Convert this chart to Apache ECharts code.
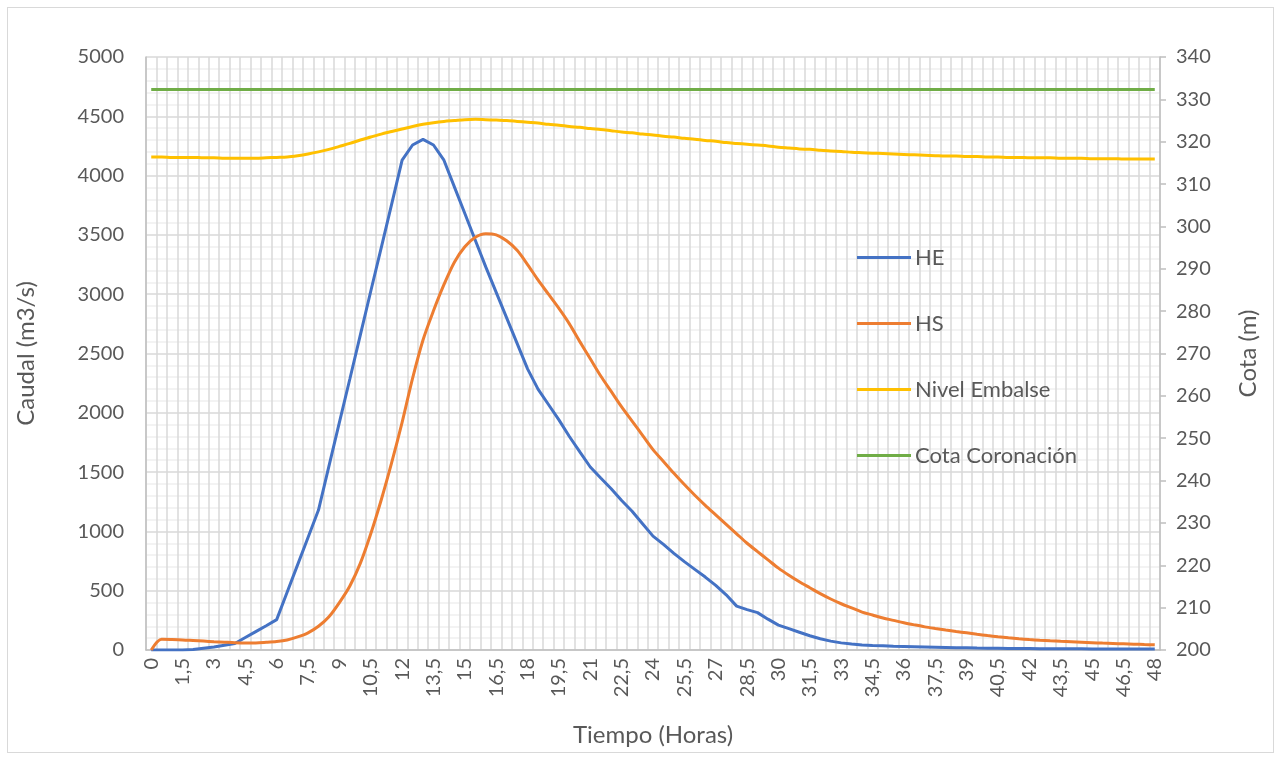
<!DOCTYPE html>
<html>
<head>
<meta charset="utf-8">
<script src="https://cdn.jsdelivr.net/npm/echarts@6/dist/echarts.min.js"></script>
<style>
html,body{margin:0;padding:0;background:#fff;}
#frame{position:absolute;left:7px;top:7px;width:1267px;height:746px;border:1px solid #d9d9d9;box-sizing:border-box;}
#chart{position:absolute;left:0;top:0;width:1282px;height:761px;}
</style>
</head>
<body>
<div id="frame"></div>
<div id="chart"></div>
<script>
// Tiempo (horas), every 0.5 h from 0 to 48
const hours = [0,0.5,1,1.5,2,2.5,3,3.5,4,4.5,5,5.5,6,6.5,7,7.5,8,8.5,9,9.5,10,10.5,11,11.5,12,12.5,13,13.5,14,14.5,15,15.5,16,16.5,17,17.5,18,18.5,19,19.5,20,20.5,21,21.5,22,22.5,23,23.5,24,24.5,25,25.5,26,26.5,27,27.5,28,28.5,29,29.5,30,30.5,31,31.5,32,32.5,33,33.5,34,34.5,35,35.5,36,36.5,37,37.5,38,38.5,39,39.5,40,40.5,41,41.5,42,42.5,43,43.5,44,44.5,45,45.5,46,46.5,47,47.5,48];
const categories = hours.map(h => String(h).replace('.', ','));

// HE (m3/s)
const HE = [0,0,0,0,5,15,25,40,55,105,155,205,256,487,718,949,1180,1550,1920,2285,2655,3025,3390,3760,4130,4258,4306,4258,4130,3905,3680,3455,3230,3015,2800,2585,2370,2200,2070,1940,1800,1670,1543,1450,1360,1260,1170,1065,960,890,815,745,680,615,545,465,370,340,315,260,210,180,150,120,95,75,60,50,42,38,35,32,30,28,26,24,22,20,18,16,15,14,13,12,12,11,11,10,10,10,9,9,9,8,8,8,8];

// HS (m3/s)
const HS = [0,90,88,85,80,75,70,66,62,60,60,65,72,85,110,145,200,280,400,540,730,980,1265,1580,1920,2290,2614,2860,3080,3270,3400,3480,3510,3500,3450,3370,3250,3120,3000,2880,2750,2600,2455,2310,2180,2050,1930,1810,1690,1590,1490,1395,1305,1220,1140,1060,980,900,830,760,690,630,575,525,475,430,390,355,320,295,270,250,230,212,195,181,168,156,145,133,122,112,103,95,88,82,77,73,70,66,62,58,55,52,49,46,44];

// Nivel Embalse (m)
const nivel = [316.4,316.4,316.3,316.3,316.3,316.2,316.2,316.1,316.1,316.1,316.1,316.2,316.3,316.4,316.7,317.1,317.6,318.2,318.9,319.6,320.4,321.1,321.8,322.4,323.0,323.6,324.1,324.5,324.8,325.0,325.2,325.3,325.2,325.1,325.0,324.8,324.6,324.4,324.1,323.9,323.6,323.4,323.1,322.9,322.6,322.3,322.1,321.8,321.6,321.3,321.1,320.8,320.6,320.3,320.1,319.8,319.6,319.4,319.2,319.0,318.7,318.5,318.3,318.2,318.0,317.8,317.7,317.5,317.4,317.3,317.2,317.1,317.0,316.9,316.8,316.7,316.6,316.6,316.5,316.5,316.4,316.4,316.3,316.3,316.2,316.2,316.2,316.1,316.1,316.1,316.0,316.0,316.0,315.9,315.9,315.9,315.9];

// Cota Coronación (m)
const cotaCoronacion = 332.3;
const cota = hours.map(() => cotaCoronacion);

const leftTicks = {min: 0, max: 5000, interval: 500};
const rightTicks = {min: 200, max: 340, interval: 10};

const txt = '#595959';
const font = 'Lato, "Open Sans", sans-serif';
const chart = echarts.init(document.getElementById('chart'));
chart.setOption({
  animation: false,
  textStyle: {fontFamily: font},
  grid: {left: 146, right: 122, top: 57, bottom: 111, containLabel: false},
  legend: {
    orient: 'vertical', left: 852, top: 241,
    itemWidth: 54, itemHeight: 3, itemGap: 43, icon: 'rect',
    textStyle: {color: txt, fontSize: 22, fontFamily: font, lineHeight: 23, padding: [0, 0, 0, -1]},
    data: ['HE', 'HS', 'Nivel Embalse', 'Cota Coronación']
  },
  xAxis: {
    type: 'category', data: categories, boundaryGap: true,
    name: 'Tiempo (Horas)', nameLocation: 'middle', nameGap: 73,
    nameTextStyle: {color: txt, fontSize: 24, fontFamily: font},
    axisLine: {show: true, lineStyle: {color: '#bfbfbf', width: 1.5}},
    axisTick: {show: false},
    axisLabel: {interval: 2, rotate: 90, color: txt, fontSize: 20, margin: 8, fontFamily: font},
    splitLine: {show: true, interval: 0, lineStyle: {color: '#d9d9d9', width: 1.5}}
  },
  yAxis: [{
    type: 'value', min: leftTicks.min, max: leftTicks.max, interval: leftTicks.interval,
    name: 'Caudal (m3/s)', nameLocation: 'middle', nameGap: 108,
    nameTextStyle: {color: txt, fontSize: 24, fontFamily: font},
    axisLine: {show: true, lineStyle: {color: '#bfbfbf', width: 1.5}},
    axisTick: {show: false},
    axisLabel: {color: txt, fontSize: 20, margin: 22, fontFamily: font, formatter: v => String(v)},
    splitLine: {show: true, lineStyle: {color: '#d9d9d9', width: 1.5}},
    minorTick: {show: false, splitNumber: 5},
    minorSplitLine: {show: true, lineStyle: {color: '#f0f0f0', width: 1.5}}
  }, {
    type: 'value', min: rightTicks.min, max: rightTicks.max, interval: rightTicks.interval,
    name: 'Cota (m)', nameLocation: 'middle', nameGap: 76,
    nameTextStyle: {color: txt, fontSize: 24, fontFamily: font},
    axisLine: {show: true, lineStyle: {color: '#bfbfbf', width: 1.5}},
    axisTick: {show: true, inside: false, length: 6, lineStyle: {color: '#bfbfbf', width: 1.5}},
    axisLabel: {color: txt, fontSize: 20, margin: 16, fontFamily: font, formatter: v => String(v)},
    splitLine: {show: false}
  }],
  series: [
    {name: 'HE', type: 'line', data: HE, yAxisIndex: 0, symbol: 'none', lineStyle: {color: '#4472C4', width: 3}, itemStyle: {color: '#4472C4'}},
    {name: 'HS', type: 'line', data: HS, yAxisIndex: 0, symbol: 'none', smooth: 0.3, lineStyle: {color: '#ED7D31', width: 3}, itemStyle: {color: '#ED7D31'}},
    {name: 'Nivel Embalse', type: 'line', data: nivel, yAxisIndex: 1, symbol: 'none', smooth: 0.3, lineStyle: {color: '#FFC000', width: 3}, itemStyle: {color: '#FFC000'}},
    {name: 'Cota Coronación', type: 'line', data: cota, yAxisIndex: 1, symbol: 'none', lineStyle: {color: '#70AD47', width: 3}, itemStyle: {color: '#70AD47'}}
  ]
});
</script>
</body>
</html>
